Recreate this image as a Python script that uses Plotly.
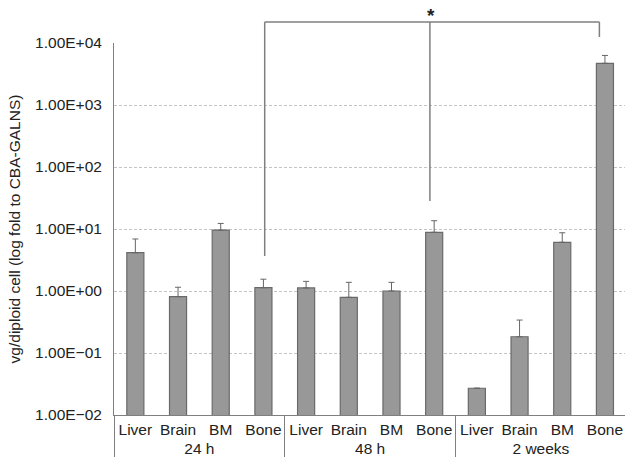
import plotly.graph_objects as go

groups = ["24 h"] * 4 + ["48 h"] * 4 + ["2 weeks"] * 4
tissues = ["Liver", "Brain", "BM", "Bone"] * 3
values = [4.15, 0.81, 9.6, 1.13, 1.12, 0.79, 1.0, 8.85, 0.027, 0.183, 6.1, 4700]
err_top = [6.9, 1.15, 12.3, 1.55, 1.43, 1.38, 1.38, 13.6, 0.027, 0.34, 8.7, 6300]
err_plus = [t - v for t, v in zip(err_top, values)]

tick_vals = [1e-2, 1e-1, 1e0, 1e1, 1e2, 1e3, 1e4]
tick_text = ["1.00E\u221202", "1.00E\u221201", "1.00E+00", "1.00E+01",
             "1.00E+02", "1.00E+03", "1.00E+04"]

FONT = "Liberation Sans, Arial, sans-serif"
FS = 15.5
GRAY = "#7f7f7f"

fig = go.Figure()
fig.add_trace(go.Bar(
    x=[groups, tissues],
    y=values,
    marker=dict(color="#989898", line=dict(color="#6a6a6a", width=1.2)),
    error_y=dict(type="data", symmetric=False, array=err_plus,
                 arrayminus=[0] * len(values), color="#666666",
                 thickness=1, width=3),
    showlegend=False,
))

fig.update_layout(
    width=625, height=461,
    margin=dict(l=114, r=0, t=43, b=46),
    paper_bgcolor="white", plot_bgcolor="white",
    bargap=0.6,
    font=dict(family=FONT, size=FS, color="#222"),
    xaxis=dict(
        type="multicategory",
        range=[-0.5, 11.47],
        automargin=False,
        tickangle=0,
        showline=True, linecolor=GRAY, linewidth=1,
        ticks="", showgrid=False,
        tickfont=dict(family=FONT, size=FS, color="#222"),
        dividercolor=GRAY, dividerwidth=1,
        showdividers=True,
    ),
    yaxis=dict(
        type="log",
        range=[-2, 4],
        automargin=False,
        tickvals=tick_vals, ticktext=tick_text,
        showline=True, linecolor=GRAY, linewidth=1,
        showgrid=True, gridcolor="#c4c4c4", griddash="3px,2px", gridwidth=1,
        ticks="", ticklabelstandoff=8,
        tickfont=dict(family=FONT, size=FS, color="#222"),
        title=dict(text="vg/diploid cell (log fold to CBA-GALNS)",
                   font=dict(family=FONT, size=FS, color="#222"),
                   standoff=10),
        zeroline=False,
    ),
)

# significance bracket
def px_to_paper_y(py):
    return (415 - py) / 372

bx = [3.03, 6.9, 10.87]
top = px_to_paper_y(22)
bottoms = [px_to_paper_y(256), px_to_paper_y(201), px_to_paper_y(37)]
line = dict(color=GRAY, width=1.5)
fig.add_shape(type="line", xref="x", yref="paper", x0=bx[0], x1=bx[2],
              y0=top, y1=top, line=line)
for x, b in zip(bx, bottoms):
    fig.add_shape(type="line", xref="x", yref="paper", x0=x, x1=x,
                  y0=top, y1=b, line=line)
fig.add_annotation(text="<b>*</b>", xref="x", yref="paper", x=bx[1] + 0.02,
                   y=px_to_paper_y(3), yanchor="top",
                   showarrow=False, font=dict(family=FONT, size=19, color="#222"))

fig.write_html(
    "out.html",
    config={"displayModeBar": False},
    post_script="document.body.style.margin='0';document.body.style.overflow='hidden';",
)
